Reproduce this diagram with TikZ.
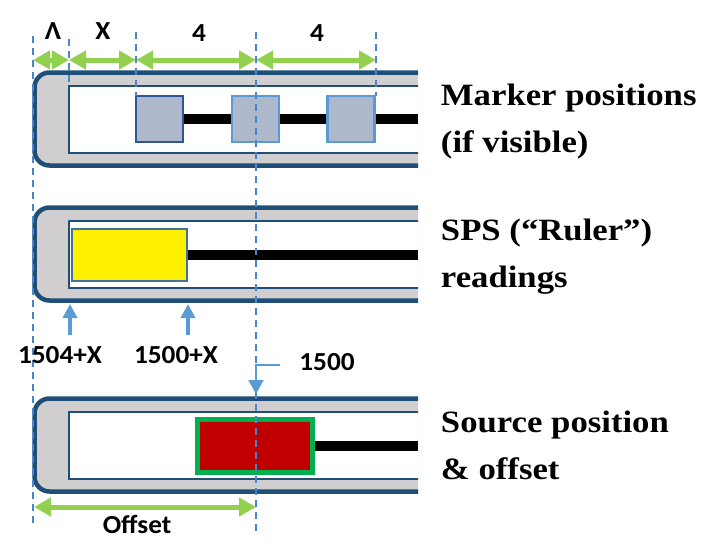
\documentclass[tikz,border=0pt]{standalone}
\usepackage{fontspec}
\setmainfont{Liberation Serif}
\newfontfamily\calibri{Carlito}
\usepackage{tikz}
\usetikzlibrary{arrows.meta}
\usetikzlibrary{positioning}

\definecolor{tubeblue}{HTML}{1F4E79}
\definecolor{tubegrey}{HTML}{D0CECE}
\definecolor{markfill}{HTML}{ADB9CA}
\definecolor{markdark}{HTML}{2F5597}
\definecolor{lightblue}{HTML}{5B9BD5}
\definecolor{guideblue}{HTML}{4A86C5}
\definecolor{spangreen}{HTML}{92D050}
\definecolor{srcred}{HTML}{C00000}
\definecolor{srcgreen}{HTML}{00B050}
\definecolor{boxedge}{HTML}{41719C}

\begin{document}
\begin{tikzpicture}[x=1pt, y=-1pt,
    tube/.style={fill=tubegrey, draw=tubeblue, line width=4.5pt, rounded corners=15pt},
    channel/.style={fill=white, draw=tubeblue, line width=2.2pt},
    guide/.style={draw=guideblue, line width=1.3pt, dash pattern=on 7pt off 5pt},
    span/.style={draw=spangreen, line width=5pt,
      {Triangle[length=17pt,width=18pt]}-{Triangle[length=17pt,width=18pt]}},
    pointer/.style={draw=lightblue, line width=3.5pt, -{Triangle[length=14pt,width=14pt]}},
    callout/.style={draw=lightblue, line width=2pt, -{Triangle[length=14pt,width=15pt]}},
    cable/.style={draw=black, line width=10pt},
    marker/.style={rectangle, fill=markfill, draw=lightblue, line width=2.2pt,
      minimum width=47pt, minimum height=46pt, inner sep=0pt},
    reading/.style={rectangle, fill=yellow, draw=boxedge, line width=2pt,
      minimum width=115pt, minimum height=52pt, inner sep=0pt},
    source/.style={rectangle, fill=srcred, draw=srcgreen, line width=5pt,
      minimum width=115pt, minimum height=53pt, inner sep=0pt},
    dim/.style={font=\calibri\bfseries\fontsize{26}{30}\selectfont, xscale=1.05, anchor=base},
    caption/.style={font=\bfseries\fontsize{31}{47}\selectfont, xscale=1.12,
      align=left, anchor=base west}]
  \useasboundingbox (0,0) rectangle (709,552);

  % three guide tubes, cut open on the right
  \foreach \t in {72.5,207.5,398.5}{
    \begin{scope}
      \clip (0,0) rectangle (418,552);
      \draw[tube]    (34.5,\t) rectangle (460,\t+93);
      \draw[channel] (69,\t+13.5) rectangle (460,\t+80.5);
    \end{scope}
  }

  % markers on the cable
  \node[marker, draw=markdark] (m_1) at (159.5,119) {};
  \node[marker]                (m_2) at (255.5,119) {};
  \node[marker]                (m_3) at (351,119)   {};
  \coordinate (end_1) at (418,119);
  \draw[cable] (m_1) -- (m_2);
  \draw[cable] (m_2) -- (m_3);
  \draw[cable] (m_3) -- (end_1);

  % SPS reading
  \node[reading] (sps) at (129.5,255) {};
  \coordinate (end_2) at (418,255);
  \draw[cable] (sps) -- (end_2);

  % source
  \node[source] (src) at (255,446) {};
  \coordinate (end_3) at (418,446);
  \draw[cable] (src) -- (end_3);

  % dashed guides
  \coordinate (g_1t) at (33,36);   \coordinate (g_1b) at (33,525);
  \coordinate (g_2t) at (69,39);   \coordinate (g_2b) at (69,86);
  \coordinate (g_3t) at (136,32);  \coordinate (g_3b) at (136,96);
  \coordinate (g_4t) at (256,32);  \coordinate (g_4b) at (256,533);
  \coordinate (g_5t) at (376,32);  \coordinate (g_5b) at (376,96);
  \foreach \g in {1,...,5}
    \draw[guide] (g_\g t) -- (g_\g b);

  % spans on top
  \coordinate (s_1) at (33,60);
  \coordinate (s_2) at (69,60);
  \coordinate (s_3) at (136,60);
  \coordinate (s_4) at (256,60);
  \coordinate (s_5) at (376,60);
  \draw[span] (s_1) -- (s_2);
  \draw[span] (s_2) -- (s_3);
  \draw[span] (s_3) -- (s_4);
  \draw[span] (s_4) -- (s_5);
  \node[dim] (lambda) at (53,39)  {Λ};
  \node[dim] (xlen)   at (103,39) {X};
  \node[dim] (four_1) at (199,41) {4};
  \node[dim] (four_2) at (317,41) {4};

  % SPS read-outs
  \node[dim] (r_1504) at (60,363)  {1504+X};
  \node[dim] (r_1500) at (176,363) {1500+X};
  \coordinate (p_1t) at (70,304);  \coordinate (p_1b) at (70,335);
  \coordinate (p_2t) at (188,304); \coordinate (p_2b) at (188,335);
  \draw[pointer] (p_1b) -- (p_1t);
  \draw[pointer] (p_2b) -- (p_2t);

  % source position
  \node[dim] (s_1500) at (327,370) {1500};
  \coordinate (c_from) at (280,365);
  \coordinate (c_to)   at (256,394);
  \draw[callout] (c_from) -| (c_to);

  % offset
  \coordinate (o_1) at (34,507);
  \coordinate (o_2) at (256,507);
  \draw[span] (o_1) -- (o_2);
  \node[dim] (offset) at (137,533) {Offset};

  % captions (anchored on the last line)
  \node[caption] (cap_1) at (437,152) {Marker positions\\(if visible)};
  \node[caption] (cap_2) at (437,287) {SPS (“Ruler”)\\readings};
  \node[caption] (cap_3) at (437,479) {Source position\\\& offset};
\end{tikzpicture}
\end{document}
